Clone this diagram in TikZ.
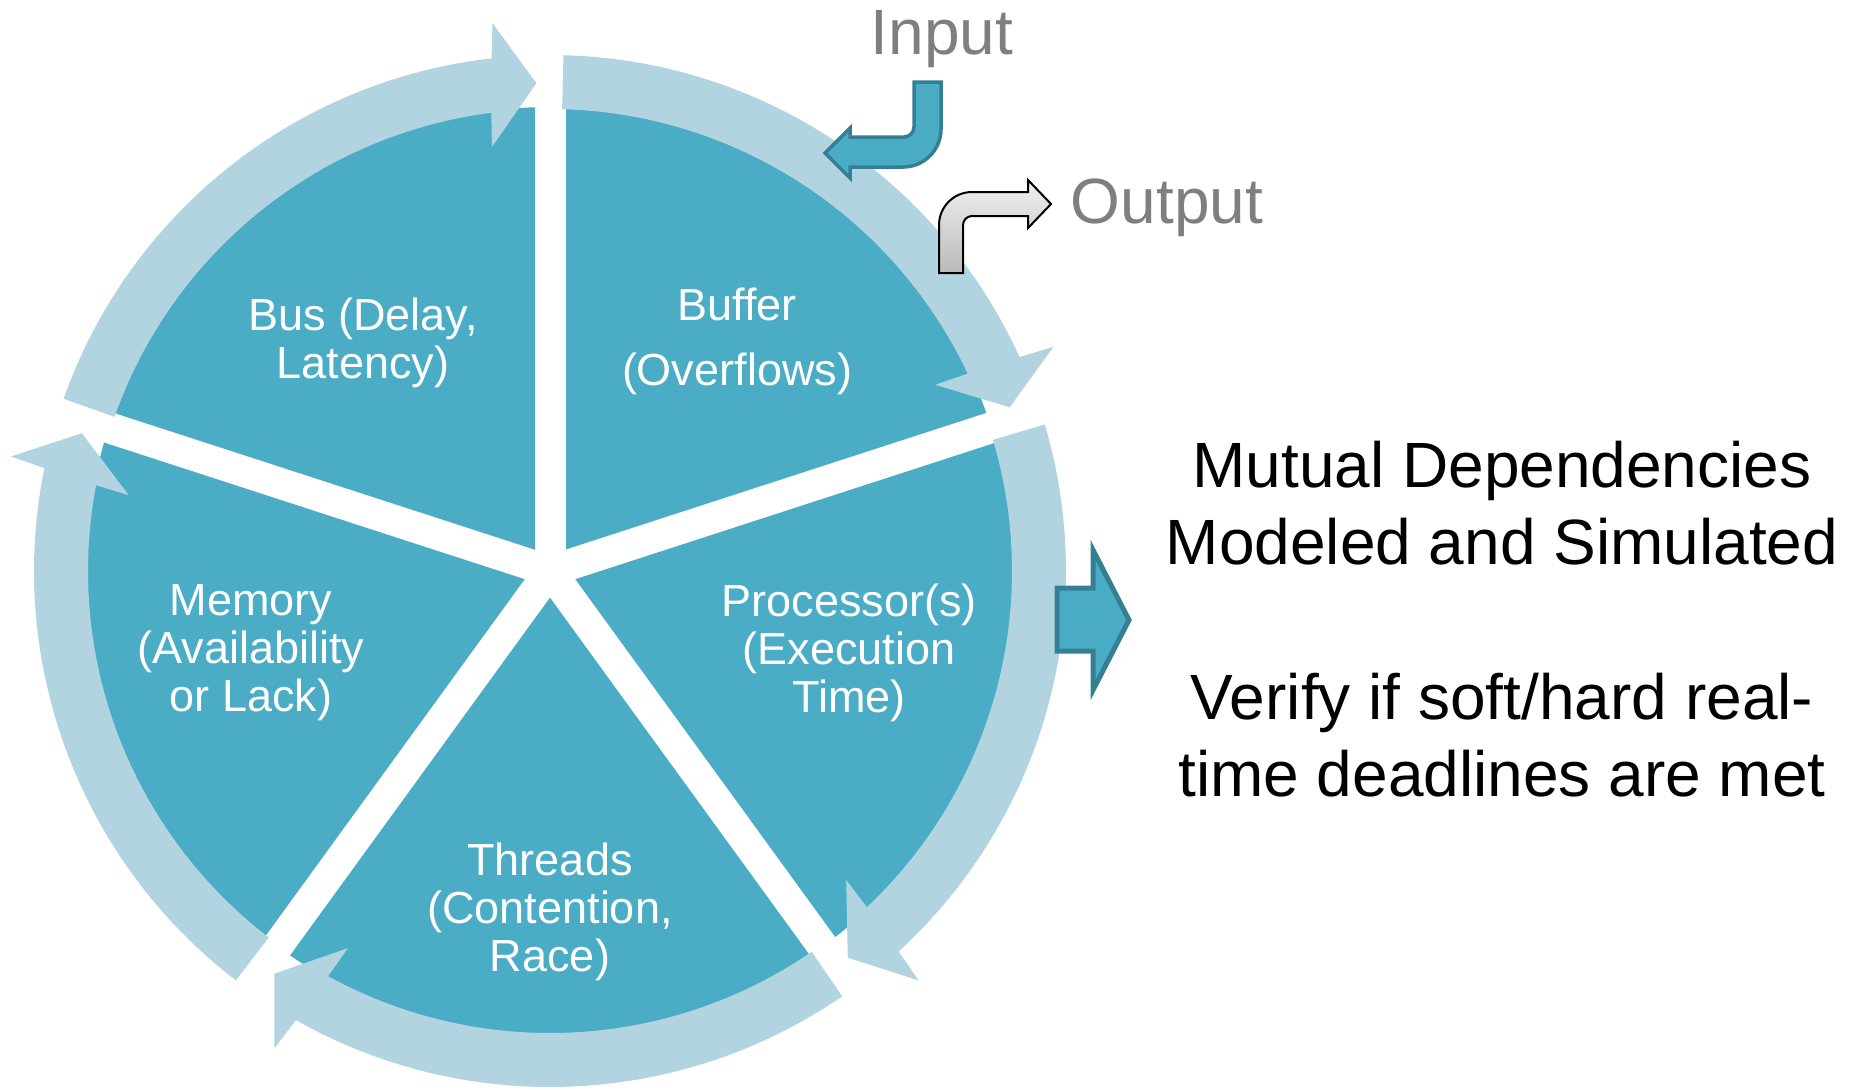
\documentclass[tikz,border=0pt]{standalone}
\usepackage{fontspec}
\setmainfont{Liberation Sans}
\definecolor{pie}{HTML}{4BACC6}
\definecolor{ring}{HTML}{B2D4E0}
\definecolor{edge}{HTML}{357F94}
\definecolor{caption}{HTML}{7F7F7F}

\begin{document}
\begin{tikzpicture}[x=0.4pt, y=-0.4pt,
  gap/.style={draw=white, line width=12.4pt},
  segtext/.style={text=white, font=\fontsize{18}{19.2}\selectfont, align=center},
  bigtext/.style={font=\fontsize{25.6}{30.8}\selectfont, align=center},
  iolabel/.style={text=caption, font=\fontsize{25.6}{30}\selectfont, anchor=base},
  bluearrow/.style={fill=pie, draw=edge, line join=miter},
  greyarrow/.style={top color=black!6, bottom color=black!27, draw=black, line width=0.8pt},
]
\useasboundingbox (0,0) rectangle (1857,1089);
\coordinate (C) at (550,571);

% pie of five segments separated by white gaps
\fill[pie] (C) circle[radius=464];
\foreach \a in {-90,-18,54,126,198}
  \draw[gap] (C) -- ++(\a:472);

% clockwise ring arrows, one per segment
\begin{scope}[shift={(C)}]
\foreach \s in {-90,-18,54,126,198} {
  \pgfmathsetmacro\e{\s+72}
  \fill[ring] (\s+1.5:462) -- (\s+1.5:516)
    arc[start angle=\s+1.5, end angle=\e-6.5, radius=516]
    -- (\e-6:551) -- (\e-1.6:488) -- (\e-7.8:428) -- (\e-7.3:462)
    arc[start angle=\e-7.3, end angle=\s+1.5, radius=462] -- cycle;
}
\end{scope}

% segment labels
\node[segtext] (bus) at (363,343) {Bus (Delay,\\Latency)};
\node[segtext, font=\fontsize{18}{26}\selectfont] (buffer) at (737,341) {Buffer\\(Overflows)};
\node[segtext] (proc) at (849,653) {Processor(s)\\(Execution\\Time)};
\node[segtext] (mem) at (251,653) {Memory\\(Availability\\or Lack)};
\node[segtext] (thr) at (550,912) {Threads\\(Contention,\\Race)};

% input / output
\node[iolabel] (input) at (942,54) {Input};
\node[iolabel] (output) at (1167,223) {Output};

\draw[bluearrow, line width=1.4pt] (914,82) -- (941,82) -- (941,129)
  arc[start angle=0, end angle=90, radius=38] -- (850,167) -- (850,178)
  -- (825,153) -- (850,128) -- (850,137) -- (904,137)
  arc[start angle=90, end angle=0, radius=10] -- cycle;

\shade[greyarrow] (939,273) -- (939,225)
  arc[start angle=180, end angle=270, radius=33] -- (1028,192) -- (1028,180)
  -- (1051,204) -- (1028,228) -- (1028,216) -- (972,216)
  arc[start angle=270, end angle=180, radius=9] -- (963,273) -- cycle;

% result arrow and conclusions
\draw[bluearrow, line width=2pt] (1057,588) -- (1093,588) -- (1093,550)
  -- (1129,620) -- (1093,690) -- (1093,651) -- (1057,651) -- cycle;

\node[bigtext] (mutual) at (1502,503) {Mutual Dependencies\\Modeled and Simulated};
\node[bigtext] (verify) at (1502,735) {Verify if soft/hard real-\\time deadlines are met};
\end{tikzpicture}
\end{document}
